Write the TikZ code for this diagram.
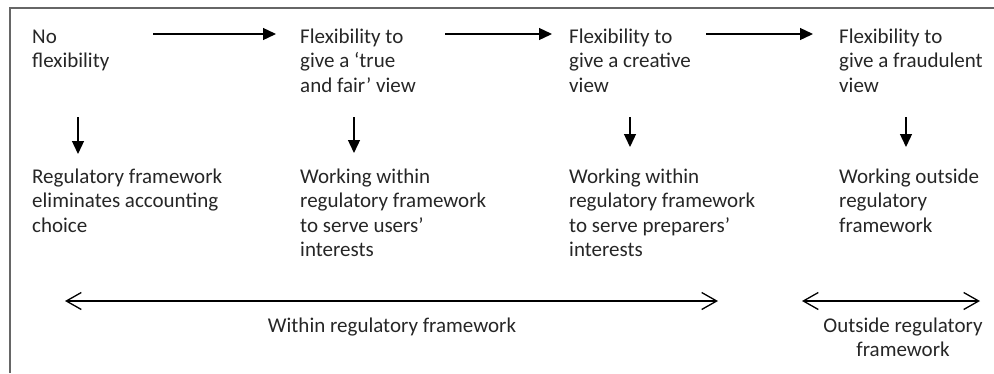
\documentclass[tikz,border=0pt]{standalone}
\usepackage{fontspec}
\setmainfont{Carlito}
\usetikzlibrary{arrows.meta}
\definecolor{txt}{HTML}{262626}
\begin{document}
\begin{tikzpicture}[x=1pt,y=-1pt,
  lbl/.style={anchor=north west, inner sep=0pt, align=left, text=txt, font=\fontsize{21}{24.5}\selectfont},
  clbl/.style={anchor=north, inner sep=0pt, align=center, text=txt, font=\fontsize{21}{24.5}\selectfont},
  flow/.style={-{Triangle[length=13pt,width=12pt]}, line width=1.3pt},
  span/.style={{Straight Barb[length=15pt,width=17pt,line width=1.3pt]}-{Straight Barb[length=15pt,width=17pt,line width=1.3pt]}, line width=1.3pt},
  frame/.style={draw=black!60, line width=2pt}]
\useasboundingbox (0,0) rectangle (994,373);
\draw[frame] (10,373) -- (10,8) -- (994,8);

% top row
\node[lbl] (t1) at (32,25.85) {\strut No\\flexibility};
\node[lbl] (t2) at (300,25.85) {\strut Flexibility to\\give a ‘true\\and fair’ view};
\node[lbl] (t3) at (569,25.85) {\strut Flexibility to\\give a creative\\view};
\node[lbl] (t4) at (839,25.85) {\strut Flexibility to\\give a fraudulent\\view};

% bottom row
\node[lbl] (b1) at (32,165.85) {\strut Regulatory framework\\eliminates accounting\\choice};
\node[lbl] (b2) at (300,165.85) {\strut Working within\\regulatory framework\\to serve users’\\interests};
\node[lbl] (b3) at (569,165.85) {\strut Working within\\regulatory framework\\to serve preparers’\\interests};
\node[lbl] (b4) at (839,165.85) {\strut Working outside\\regulatory\\framework};

% horizontal arrows
\coordinate (h1s) at (153,34); \coordinate (h1e) at (276,34);
\coordinate (h2s) at (445,34); \coordinate (h2e) at (552,34);
\coordinate (h3s) at (706,34); \coordinate (h3e) at (813,34);
\draw[flow] (h1s) -- (h1e);
\draw[flow] (h2s) -- (h2e);
\draw[flow] (h3s) -- (h3e);

% vertical arrows
\coordinate (v1s) at (78,117); \coordinate (v1e) at (78,154);
\coordinate (v2s) at (354,117); \coordinate (v2e) at (354,153);
\coordinate (v3s) at (630,117); \coordinate (v3e) at (630,147);
\coordinate (v4s) at (906,117); \coordinate (v4e) at (906,147);
\draw[flow] (v1s) -- (v1e);
\draw[flow] (v2s) -- (v2e);
\draw[flow] (v3s) -- (v3e);
\draw[flow] (v4s) -- (v4e);

% spans
\coordinate (s1a) at (65,301); \coordinate (s1b) at (718,301);
\coordinate (s2a) at (802,301); \coordinate (s2b) at (980,301);
\draw[span] (s1a) -- (s1b);
\draw[span] (s2a) -- (s2b);
\node[clbl] (w1) at (392,314.85) {\strut Within regulatory framework};
\node[clbl] (w2) at (903,314.85) {\strut Outside regulatory\\framework};
\end{tikzpicture}
\end{document}
